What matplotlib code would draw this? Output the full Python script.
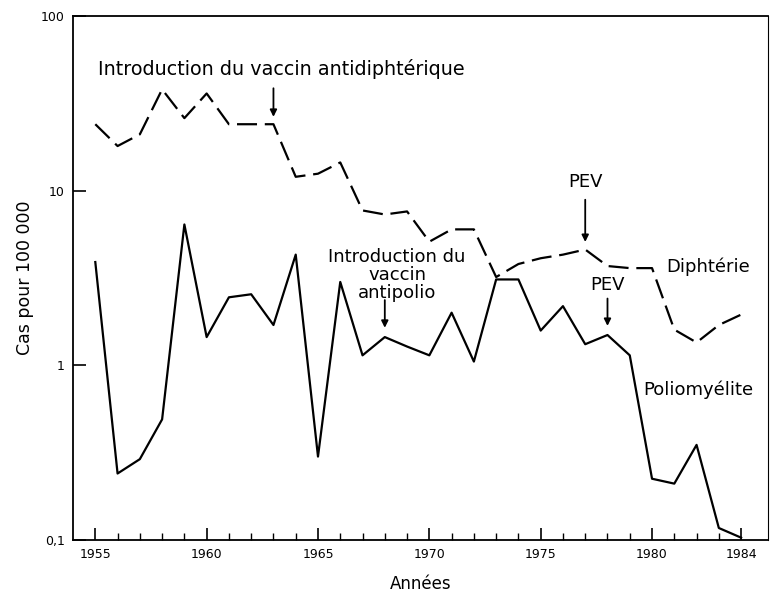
import numpy as np
import matplotlib
matplotlib.use('Agg')
from matplotlib import pyplot as plt
from matplotlib.ticker import FixedLocator, NullFormatter

plt.rcParams['font.family'] = ['DejaVu Sans']

annees = list(range(1955, 1985))
diphterie = [24, 18, 21, 38, 26, 36, 24, 24, 24, 12, 12.5, 14.5, 7.7, 7.3, 7.6,
             5.1, 6.0, 6.0, 3.2, 3.8, 4.1, 4.3, 4.6, 3.7, 3.6, 3.6, 1.6, 1.35, 1.7, 1.95]
polio = [3.9, 0.24, 0.29, 0.49, 6.4, 1.45, 2.45, 2.55, 1.7, 4.3, 0.30, 3.0, 1.14, 1.45, 1.28,
         1.14, 2.0, 1.05, 3.1, 3.1, 1.58, 2.18, 1.32, 1.49, 1.14, 0.224, 0.21, 0.35, 0.117, 0.103]
xticks = [1955, 1960, 1965, 1970, 1975, 1980, 1984]
yticks = [0.1, 1, 10, 100]
yticklabels = ['0,1', '1', '10', '100']

fig = plt.figure(figsize=(7.72, 5.92), dpi=100)
ax = fig.add_axes([0.0946, 0.088, 0.9, 0.885])

ax.plot(annees, diphterie, color='black', lw=1.6, dashes=(9, 3.5))
ax.plot(annees, polio, color='black', lw=1.6)

ax.set_yscale('log')
ax.set_ylim(0.1, 100)
ax.set_xlim(1954.0, 1985.2)
ax.set_yticks(yticks)
ax.set_yticklabels(yticklabels)
ax.yaxis.set_minor_locator(FixedLocator([]))
ax.set_xticks(xticks)
ax.set_xticklabels([str(a) for a in xticks])
ax.xaxis.set_minor_locator(FixedLocator(annees))
ax.xaxis.set_minor_formatter(NullFormatter())
ax.tick_params(axis='both', which='major', direction='in', length=9, width=1.2,
               labelsize=9, pad=6)
ax.tick_params(axis='x', which='minor', direction='in', length=5, width=1)
for s in ax.spines.values():
    s.set_linewidth(1.3)
ax.spines['right'].set_linewidth(0.8)

ax.set_ylabel('Cas pour 100 000', fontsize=12.5, labelpad=5)
ax.set_xlabel('Années', fontsize=12, labelpad=10)

fs = 13
arr = dict(arrowstyle='-|>', color='black', lw=1.3, mutation_scale=10)
ax.text(1955.1, 50, 'Introduction du vaccin antidiphtérique', fontsize=13.8, va='center')
ax.annotate('', xy=(1963, 25.5), xytext=(1963, 40), arrowprops=arr)
ax.text(1977, 11.2, 'PEV', fontsize=fs, ha='center', va='center')
ax.annotate('', xy=(1977, 4.9), xytext=(1977, 9.2), arrowprops=arr)
ax.text(1968.55, 3.3, 'Introduction du\nvaccin\nantipolio', fontsize=fs, ha='center',
        va='center', linespacing=1.0)
ax.annotate('', xy=(1968, 1.58), xytext=(1968, 2.45), arrowprops=arr)
ax.text(1978, 2.9, 'PEV', fontsize=fs, ha='center', va='center')
ax.annotate('', xy=(1978, 1.62), xytext=(1978, 2.5), arrowprops=arr)
ax.text(1980.65, 3.66, 'Diphtérie', fontsize=fs, va='center')
ax.text(1979.6, 0.72, 'Poliomyélite', fontsize=fs, va='center')

fig.savefig('out.png', dpi=100)
